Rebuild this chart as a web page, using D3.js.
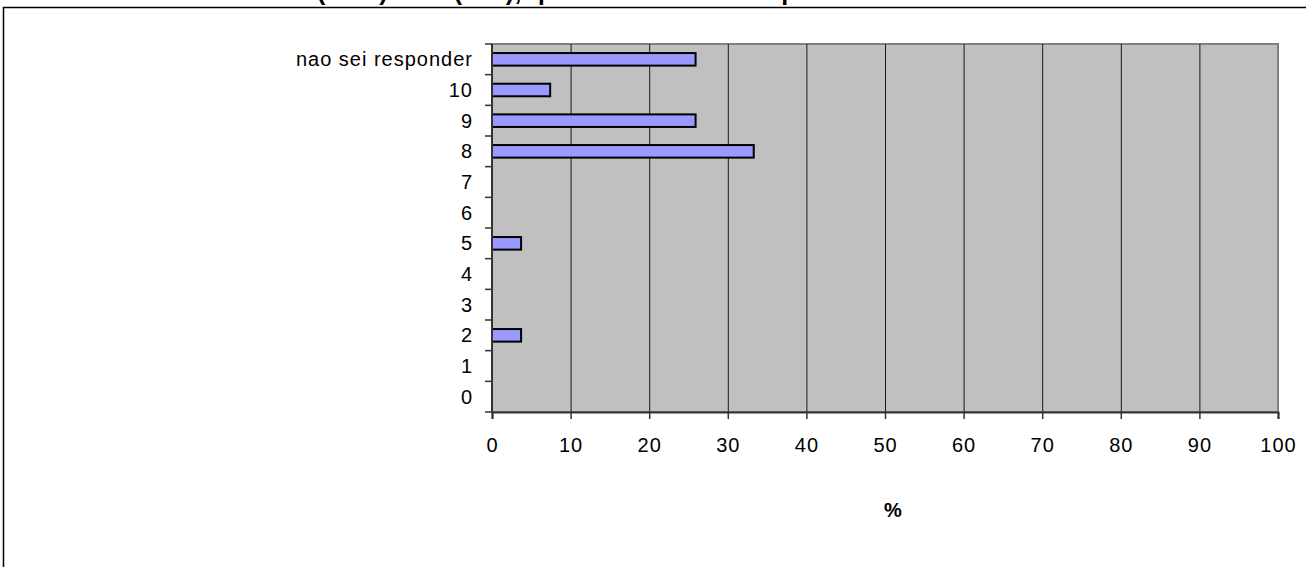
<!DOCTYPE html>
<html>
<head>
<meta charset="utf-8">
<script src="https://cdn.jsdelivr.net/npm/d3@7"></script>
<style>
	body { margin:0; background:#fff; }
	svg text { font-family: Arial, "Liberation Sans", sans-serif; }
</style>
</head>
<body>
<div id="chart"></div>
<script>
var titulo = "Em uma escala de 0 (zero) a 10 (dez), que nota você daria para o SUS?";
var categorias = ["nao sei responder", "10", "9", "8", "7", "6", "5", "4", "3", "2", "1", "0"];
var percentuais = [25.9, 7.4, 25.9, 33.3, 0, 0, 3.7, 0, 0, 3.7, 0, 0];
var ticksX = [0, 10, 20, 30, 40, 50, 60, 70, 80, 90, 100];
var rotuloX = "%";

var width = 1306, height = 567;
var margin = {left:492, right:28, top:44, bottom:155};

var svg = d3.select("#chart").append("svg:svg")
	.attr("width", width)
	.attr("height", height);

// moldura externa (cortada pela janela)
svg.append("rect")
	.attr("x", 3.5).attr("y", 7.5)
	.attr("width", width + 10).attr("height", height + 10)
	.attr("fill", "none")
	.attr("stroke", "#000")
	.attr("stroke-width", 1.5);

svg.append("text")
	.attr("x", 63).attr("y", -0.5)
	.attr("font-size", 25)
	.attr("font-weight", "bold")
	.attr("letter-spacing", 0.5)
	.text(titulo);

var x = d3.scaleLinear()
	.domain([0, 100])
	.range([margin.left, width - margin.right]);

var y = d3.scaleBand()
	.domain(categorias)
	.range([margin.top, height - margin.bottom])
	.paddingInner(0.59)
	.paddingOuter(0.295);

var dados = categorias.map(function(c, i){
	return {categoria:c, valor:percentuais[i]};
}).filter(function(d){ return d.valor > 0; });

var plot = svg.append("g");

plot.append("rect")
	.attr("x", x(0)).attr("y", margin.top)
	.attr("width", x(100) - x(0))
	.attr("height", height - margin.bottom - margin.top)
	.attr("fill", "#c0c0c0")
	.attr("stroke", "#808080")
	.attr("stroke-width", 2);

plot.selectAll("line.grid")
	.data(ticksX.slice(1, -1))
  .enter().append("line")
	.attr("class", "grid")
	.attr("x1", function(d){ return x(d) + 0.5; })
	.attr("x2", function(d){ return x(d) + 0.5; })
	.attr("y1", margin.top)
	.attr("y2", height - margin.bottom)
	.attr("stroke", "#1a1a1a")
	.attr("stroke-width", 1);

plot.selectAll("rect.bar")
	.data(dados)
  .enter().append("rect")
	.attr("class", "bar")
	.attr("x", x(0))
	.attr("y", function(d){ return y(d.categoria); })
	.attr("width", function(d){ return x(d.valor) - x(0); })
	.attr("height", y.bandwidth())
	.attr("fill", "#9999ff")
	.attr("stroke", "#000")
	.attr("stroke-width", 2);

// eixo X
var eixoX = d3.axisBottom(x)
	.tickValues(ticksX)
	.tickSize(7)
	.tickPadding(19);

var gx = svg.append("g")
	.attr("transform", "translate(0," + (height - margin.bottom) + ")")
	.call(eixoX);
gx.select(".domain").attr("stroke", "#333").attr("stroke-width", 2);
gx.selectAll(".tick line").attr("stroke", "#333").attr("stroke-width", 1.5);
gx.selectAll(".tick text")
	.attr("font-size", 20)
	.attr("letter-spacing", 1)
	.attr("fill", "#000");

// eixo Y: marcas entre as categorias
var fronteiras = d3.range(categorias.length + 1).map(function(i){
	return margin.top + i * (height - margin.bottom - margin.top) / categorias.length;
});

var gy = svg.append("g");
gy.append("line")
	.attr("x1", x(0)).attr("x2", x(0))
	.attr("y1", margin.top).attr("y2", height - margin.bottom)
	.attr("stroke", "#333")
	.attr("stroke-width", 2);
gy.selectAll("line.tick")
	.data(fronteiras)
  .enter().append("line")
	.attr("class", "tick")
	.attr("x1", x(0) - 7).attr("x2", x(0))
	.attr("y1", function(d){ return d; })
	.attr("y2", function(d){ return d; })
	.attr("stroke", "#333")
	.attr("stroke-width", 1.5);
gy.selectAll("text")
	.data(categorias)
  .enter().append("text")
	.attr("x", x(0) - 19)
	.attr("y", function(d){ return y(d) + y.bandwidth() / 2; })
	.attr("dy", "0.35em")
	.attr("text-anchor", "end")
	.attr("font-size", 20)
	.attr("letter-spacing", 1)
	.text(function(d){ return d; });

svg.append("text")
	.attr("x", (x(0) + x(100)) / 2 + 8)
	.attr("y", 517)
	.attr("text-anchor", "middle")
	.attr("font-size", 20)
	.attr("font-weight", "bold")
	.text(rotuloX);
</script>
</body>
</html>
